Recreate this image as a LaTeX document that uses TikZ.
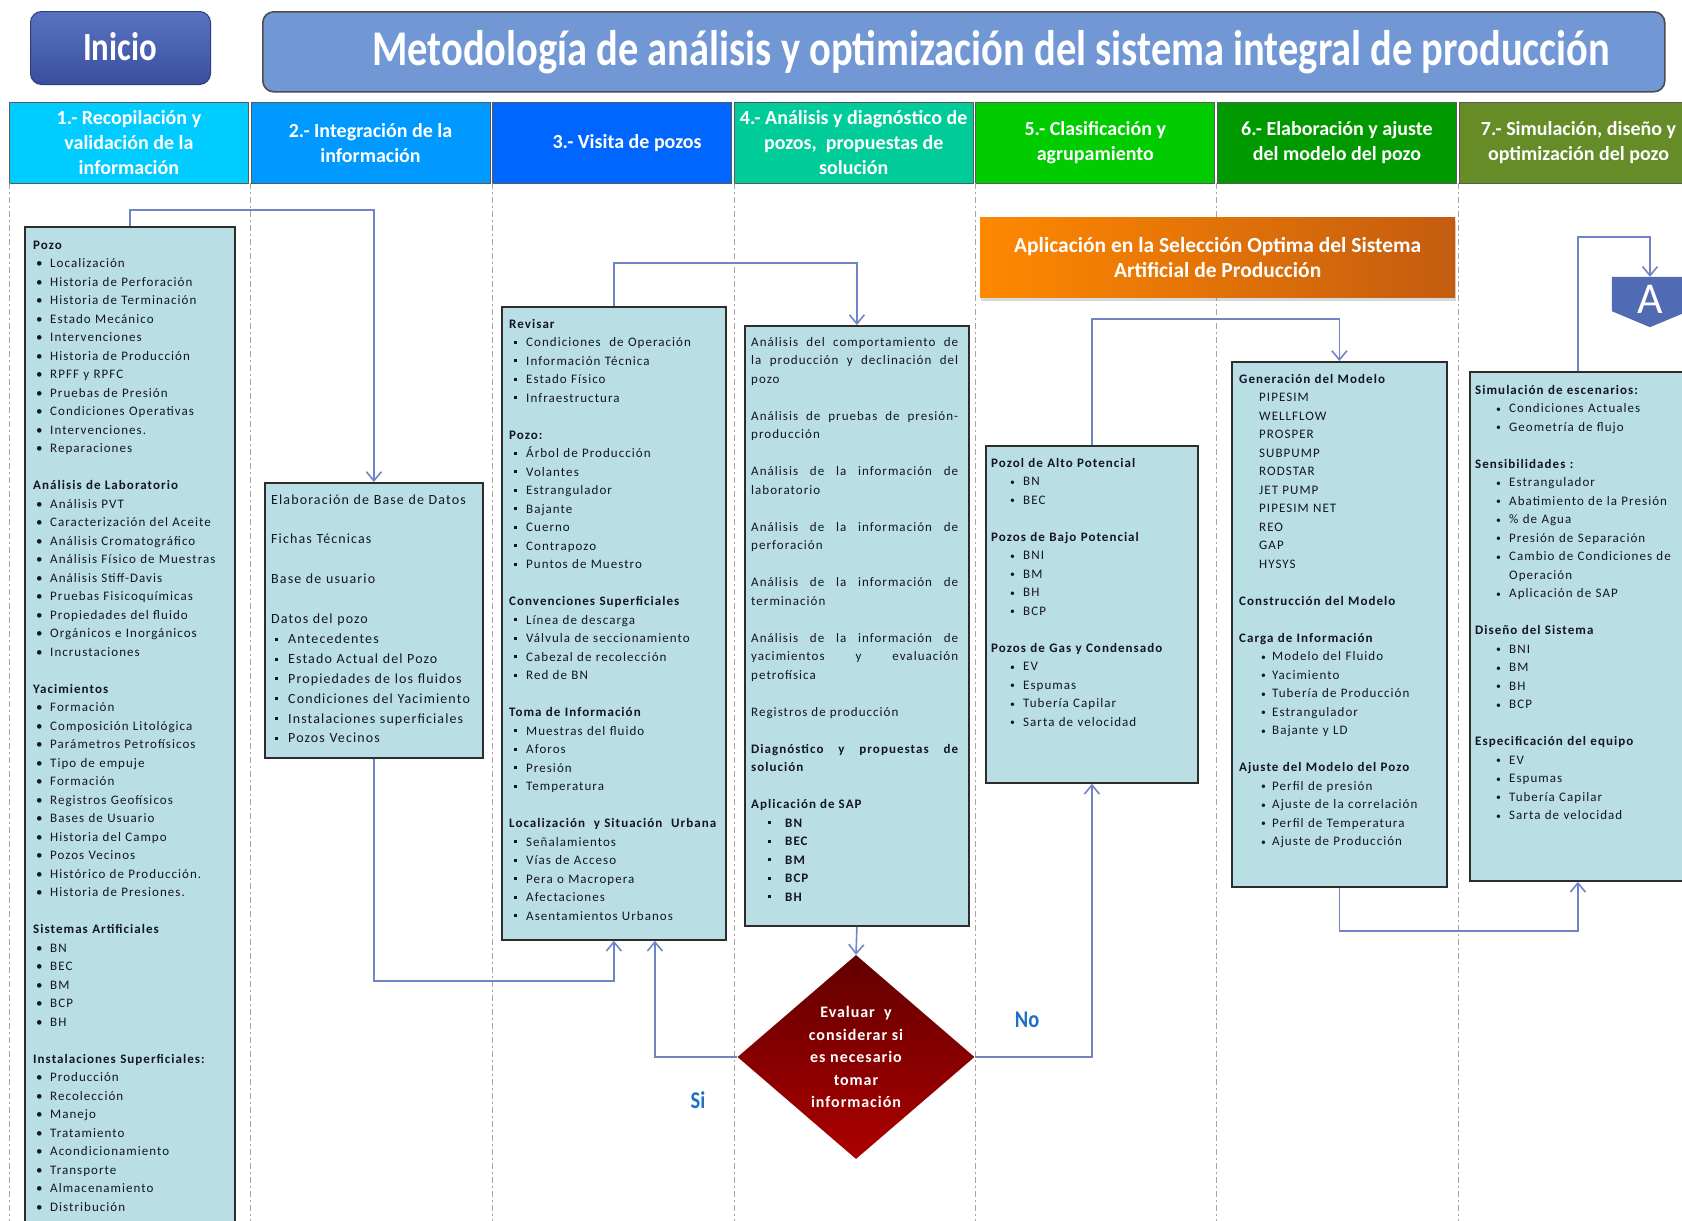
\documentclass[tikz,border=0pt]{standalone}
\usepackage{fontspec}
\setmainfont{Carlito}
\newfontfamily\trackfont[LetterSpace=8]{Carlito}
\newfontfamily\diafont[LetterSpace=6]{Carlito}
\usetikzlibrary{arrows.meta,calc,shapes.geometric,shadows}

\definecolor{panelfill}{RGB}{185,223,228}
\definecolor{panelline}{RGB}{45,45,45}
\definecolor{linkblue}{RGB}{112,132,200}
\definecolor{hdA}{RGB}{0,204,255}
\definecolor{hdB}{RGB}{0,153,255}
\definecolor{hdC}{RGB}{0,102,255}
\definecolor{hdD}{RGB}{0,204,153}
\definecolor{hdE}{RGB}{0,204,0}
\definecolor{hdF}{RGB}{0,153,0}
\definecolor{hdG}{RGB}{102,140,40}
\definecolor{titleblue}{RGB}{114,151,213}
\definecolor{startA}{RGB}{90,114,194}
\definecolor{startB}{RGB}{58,78,158}
\definecolor{orangeA}{RGB}{255,136,0}
\definecolor{orangeB}{RGB}{196,92,16}
\definecolor{decA}{RGB}{98,0,0}
\definecolor{decB}{RGB}{172,0,0}
\definecolor{labelblue}{RGB}{30,112,192}
\definecolor{connfill}{RGB}{80,106,180}
\definecolor{sepgray}{RGB}{165,165,165}
\definecolor{ink}{RGB}{20,20,40}

% list helpers: bullet indent, gap to the text, bullet symbol
\newlength\bulind
\newlength\txtgap
\newcommand{\bsym}{\textbullet}
\newcommand{\sqb}{\raisebox{2.8pt}{\rule{3pt}{3pt}}}
\newcommand{\dotb}{\raisebox{.6pt}{\scalebox{.75}{\textbullet}}}
\newcommand{\li}[1]{\hspace*{\bulind}\makebox[\txtgap][l]{\bsym}#1}
\newcommand{\setli}[3]{\setlength\bulind{#1}\setlength\txtgap{#2}\renewcommand{\bsym}{#3}}
\newcommand{\nextpara}{\par\vspace{18.5pt}}

\begin{document}
\begin{tikzpicture}[x=1pt, y=-1pt,
  panel/.style={draw=panelline, line width=1.8pt, fill=panelfill, anchor=north west, inner sep=0pt},
  listtext/.style={anchor=north west, inner sep=0pt, align=left, text=ink,
    font=\trackfont\fontsize{13}{18.5}\selectfont, execute at begin node=\strut},
  head/.style={draw=black!65, line width=.8pt, anchor=north west, minimum width=239pt,
    minimum height=81pt, inner sep=0pt, text=white, align=center,
    font=\bfseries\fontsize{20}{25}\selectfont},
  link/.style={draw=linkblue, line width=1.6pt, -{Straight Barb[length=9pt,width=15pt]}},
  sepline/.style={draw=sepgray, line width=1pt, dash pattern=on 6pt off 3pt on 2pt off 3pt},
  answer/.style={text=labelblue, font=\bfseries\fontsize{24}{24}\selectfont}
]
\path[use as bounding box] (0,0) rectangle (1682,1221);
\clip (0,0) rectangle (1682,1221);

% banner
\node[draw=startB!80!black, line width=1pt, rounded corners=11pt, top color=startA, bottom color=startB,
  minimum width=180pt, minimum height=73pt, anchor=north west, inner sep=0pt] (start) at (30,11) {};
\node[text=white, font=\bfseries\fontsize{40}{40}\selectfont] (startlbl) at (120,47) {\scalebox{0.82}[1]{Inicio}};
\node[draw=black!70, line width=1.6pt, rounded corners=11pt, fill=titleblue,
  minimum width=1402pt, minimum height=80pt, anchor=north west, inner sep=0pt] (title) at (262,11) {};
\node[text=white, font=\bfseries\fontsize{50}{50}\selectfont] (titlelbl) at (991,52)
  {\scalebox{0.81}[1]{Metodología de análisis y optimización del sistema integral de producción}};

% column heads
\foreach \i/\hc/\htxt in {
  0/hdA/{1.- Recopilación y\\validación de la\\información},
  1/hdB/{2.- Integración de la\\información},
  2/hdC/{\hspace*{30pt}3.- Visita de pozos},
  3/hdD/{4.- Análisis y diagnóstico de\\pozos,\ \ propuestas de\\solución},
  4/hdE/{5.- Clasificación y\\agrupamiento},
  5/hdF/{6.- Elaboración y ajuste\\del modelo del pozo},
  6/hdG/{7.- Simulación, diseño y\\optimización del pozo}}
  \node[head, fill=\hc] (h\i) at ({9+241.6*\i},102) {\htxt};

\foreach \x in {9,250,492,734,975,1216,1458}
  \draw[sepline] (\x,183) -- (\x,1221);

% panels
\node[panel, minimum width=210pt, minimum height=1010pt] (b1) at (24,226) {};
\node[panel, minimum width=218pt, minimum height=275pt] (b2) at (264,482) {};
\node[panel, minimum width=224pt, minimum height=633pt] (b3) at (501,306) {};
\node[panel, minimum width=224pt, minimum height=600pt] (b4) at (744,325) {};
\node[panel, minimum width=212pt, minimum height=337pt] (b5) at (985,445) {};
\node[panel, minimum width=215pt, minimum height=525pt] (b6) at (1231,361) {};
\node[panel, minimum width=216pt, minimum height=509pt] (b7) at (1469,371) {};

\node[listtext, text width=205pt] (t1) at ($(b1.north west)+(9,10)$) {\setli{3pt}{14pt}{\textbullet}%
\textbf{Pozo}\\
\li{Localización}\\
\li{Historia de Perforación}\\
\li{Historia de Terminación}\\
\li{Estado Mecánico}\\
\li{Intervenciones}\\
\li{Historia de Producción}\\
\li{RPFF y RPFC}\\
\li{Pruebas de Presión}\\
\li{Condiciones Operativas}\\
\li{Intervenciones.}\\
\li{Reparaciones}\\[18.5pt]
\textbf{Análisis de Laboratorio}\\
\li{Análisis PVT}\\
\li{Caracterización del Aceite}\\
\li{Análisis Cromatográfico}\\
\li{Análisis Físico de Muestras}\\
\li{Análisis Stiff-Davis}\\
\li{Pruebas Fisicoquímicas}\\
\li{Propiedades del fluido}\\
\li{Orgánicos e Inorgánicos}\\
\li{Incrustaciones}\\[18.5pt]
\textbf{Yacimientos}\\
\li{Formación}\\
\li{Composición Litológica}\\
\li{Parámetros Petrofísicos}\\
\li{Tipo de empuje}\\
\li{Formación}\\
\li{Registros Geofísicos}\\
\li{Bases de Usuario}\\
\li{Historia del Campo}\\
\li{Pozos Vecinos}\\
\li{Histórico de Producción.}\\
\li{Historia de Presiones.}\\[18.5pt]
\textbf{Sistemas Artificiales}\\
\li{BN}\\
\li{BEC}\\
\li{BM}\\
\li{BCP}\\
\li{BH}\\[18.5pt]
\textbf{Instalaciones Superficiales:}\\
\li{Producción}\\
\li{Recolección}\\
\li{Manejo}\\
\li{Tratamiento}\\
\li{Acondicionamiento}\\
\li{Transporte}\\
\li{Almacenamiento}\\
\li{Distribución}};

\node[listtext, text width=210pt, font=\trackfont\fontsize{14}{19.9}\selectfont] (t2)
  at ($(b2.north west)+(7,8)$) {\setli{4pt}{13pt}{\sqb}%
Elaboración de Base de Datos\\[19.9pt]
Fichas Técnicas\\[19.9pt]
Base de usuario\\[19.9pt]
Datos del pozo\\
\li{Antecedentes}\\
\li{Estado Actual del Pozo}\\
\li{Propiedades de los fluidos}\\
\li{Condiciones del Yacimiento}\\
\li{Instalaciones superficiales}\\
\li{Pozos Vecinos}};

\node[listtext, text width=214pt] (t3) at ($(b3.north west)+(8,9)$) {\setli{5pt}{12pt}{\sqb}%
\textbf{Revisar}\\
\li{Condiciones\ \ de Operación}\\
\li{Información Técnica}\\
\li{Estado Físico}\\
\li{Infraestructura}\\[18.5pt]
\textbf{Pozo:}\\
\li{Árbol de Producción}\\
\li{Volantes}\\
\li{Estrangulador}\\
\li{Bajante}\\
\li{Cuerno}\\
\li{Contrapozo}\\
\li{Puntos de Muestro}\\[18.5pt]
\textbf{Convenciones Superficiales}\\
\li{Línea de descarga}\\
\li{Válvula de seccionamiento}\\
\li{Cabezal de recolección}\\
\li{Red de BN}\\[18.5pt]
\textbf{Toma de Información}\\
\li{Muestras del fluido}\\
\li{Aforos}\\
\li{Presión}\\
\li{Temperatura}\\[18.5pt]
\textbf{Localización\ \ y Situación\ \ Urbana}\\
\li{Señalamientos}\\
\li{Vías de Acceso}\\
\li{Pera o Macropera}\\
\li{Afectaciones}\\
\li{Asentamientos Urbanos}};

\node[listtext, text width=207pt, align=justify] (t4) at ($(b4.north west)+(7,8)$) {\setli{17pt}{17pt}{\sqb}%
Análisis del comportamiento de\linebreak la producción y declinación del\linebreak pozo\nextpara
Análisis de pruebas de presión-\linebreak producción\nextpara
Análisis de la información de\linebreak laboratorio\nextpara
Análisis de la información de\linebreak perforación\nextpara
Análisis de la información de\linebreak terminación\nextpara
Análisis de la información de\linebreak yacimientos y evaluación\linebreak petrofísica\nextpara
Registros de producción\nextpara
\textbf{Diagnóstico y propuestas de\linebreak solución}\nextpara
\textbf{Aplicación de SAP}\\
\li{\textbf{BN}}\\
\li{\textbf{BEC}}\\
\li{\textbf{BM}}\\
\li{\textbf{BCP}}\\
\li{\textbf{BH}}};

\node[listtext, text width=204pt] (t5) at ($(b5.north west)+(6,9)$) {\setli{19pt}{13pt}{\dotb}%
\textbf{Pozol de Alto Potencial}\\
\li{BN}\\
\li{BEC}\\[18.5pt]
\textbf{Pozos de Bajo Potencial}\\
\li{BNI}\\
\li{BM}\\
\li{BH}\\
\li{BCP}\\[18.5pt]
\textbf{Pozos de Gas y Condensado}\\
\li{EV}\\
\li{Espumas}\\
\li{Tubería Capilar}\\
\li{Sarta de velocidad}};

\node[listtext, text width=206pt] (t6) at ($(b6.north west)+(8,9)$) {\setli{22pt}{11pt}{\dotb}%
\textbf{Generación del Modelo}\\
\hspace*{20pt}PIPESIM\\
\hspace*{20pt}WELLFLOW\\
\hspace*{20pt}PROSPER\\
\hspace*{20pt}SUBPUMP\\
\hspace*{20pt}RODSTAR\\
\hspace*{20pt}JET PUMP\\
\hspace*{20pt}PIPESIM NET\\
\hspace*{20pt}REO\\
\hspace*{20pt}GAP\\
\hspace*{20pt}HYSYS\\[18.5pt]
\textbf{Construcción del Modelo}\\[18.5pt]
\textbf{Carga de Información}\\
\li{Modelo del Fluido}\\
\li{Yacimiento}\\
\li{Tubería de Producción}\\
\li{Estrangulador}\\
\li{Bajante y LD}\\[18.5pt]
\textbf{Ajuste del Modelo del Pozo}\\
\li{Perfil de presión}\\
\li{Ajuste de la correlación}\\
\li{Perfil de Temperatura}\\
\li{Ajuste de Producción}};

\node[listtext, text width=206pt] (t7) at ($(b7.north west)+(6,10)$) {\setli{21pt}{13pt}{\dotb}%
\textbf{Simulación de escenarios:}\\
\li{Condiciones Actuales}\\
\li{Geometría de flujo}\\[18.5pt]
\textbf{Sensibilidades :}\\
\li{Estrangulador}\\
\li{Abatimiento de la Presión}\\
\li{\% de Agua}\\
\li{Presión de Separación}\\
\li{Cambio de Condiciones de}\\
\hspace*{34pt}Operación\\
\li{Aplicación de SAP}\\[18.5pt]
\textbf{Diseño del Sistema}\\
\li{BNI}\\
\li{BM}\\
\li{BH}\\
\li{BCP}\\[18.5pt]
\textbf{Especificación del equipo}\\
\li{EV}\\
\li{Espumas}\\
\li{Tubería Capilar}\\
\li{Sarta de velocidad}};

% selection banner
\node[anchor=north west, minimum width=475pt, minimum height=80pt, inner sep=0pt,
  left color=orangeA, right color=orangeB, text=white, align=center,
  font=\bfseries\fontsize{21.5}{24.7}\selectfont,
  drop shadow={shadow xshift=1pt, shadow yshift=-4pt, opacity=.3}] (sel) at (980,217)
  {Aplicación en la Selección Optima del Sistema\\Artificial de Producción};

% decision
\node[diamond, minimum width=237pt, minimum height=204pt, inner sep=0pt,
  top color=decA, bottom color=decB] (dia) at (856,1057) {};
\node[text=white, align=center, font=\diafont\bfseries\fontsize{16}{22.5}\selectfont] (dialbl) at (dia)
  {Evaluar\ \ y\\considerar si\\es necesario\\tomar\\información};
\node[answer] (si) at (698,1100) {\scalebox{.85}[1]{Si}};
\node[answer] (no) at (1027,1020) {\scalebox{.85}[1]{No}};

% off-page connector
\node[minimum width=76pt, minimum height=34pt, inner sep=0pt] (conA) at (1650,294) {};
\fill[connfill] (conA.north west) -- (conA.north east) -- (conA.south east)
  -- ($(conA.south)+(0,16)$) -- (conA.south west) -- cycle;
\node[text=white, font=\fontsize{44}{44}\selectfont] (conAlbl) at ($(conA)+(0,5)$) {A};

% flow
\draw[link] (b1.north) -- ++(0,-16) -| (b2.north);
\draw[link] (b2.south) -- ++(0,222) -| (b3.south);
\draw[link] (b3.north) -- ++(0,-43) -| (b4.north);
\draw[link] (b4.south) -- (dia.north);
\draw[link] (dia.west) -| ([xshift=41pt]b3.south);
\draw[link] (dia.east) -| (b5.south);
\draw[link] (b5.north) -- ++(0,-126) -| (b6.north);
\draw[link] (b6.south) -- ++(0,43) -| (b7.south);
\draw[link] (b7.north) -- ++(0,-134) -| (conA.north);
\end{tikzpicture}
\end{document}
